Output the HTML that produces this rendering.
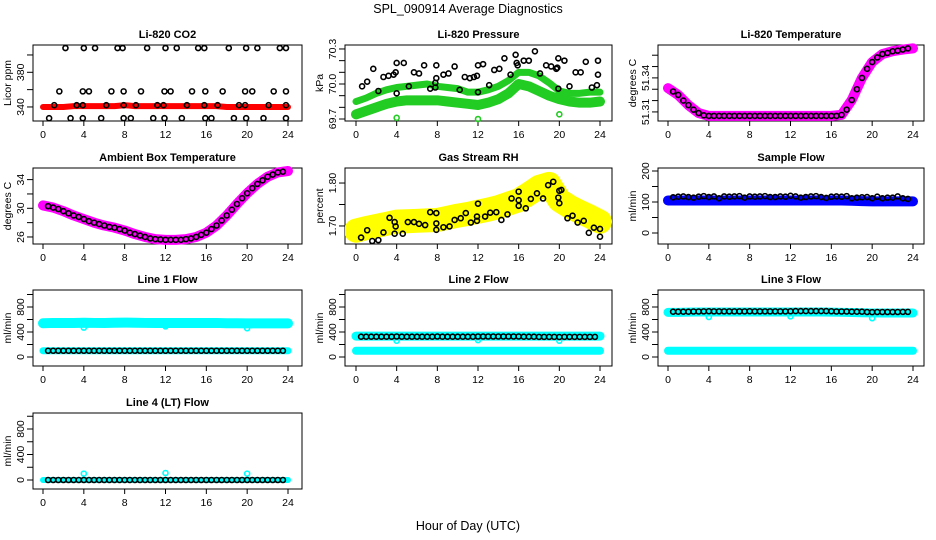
<!DOCTYPE html>
<html><head><meta charset="utf-8">
<style>
html,body{margin:0;padding:0;background:#fff;}
svg{display:block;font-family:"Liberation Sans",Arial,sans-serif;}
</style></head>
<body>
<svg id="chart" width="936" height="540" viewBox="0 0 936 540" xmlns="http://www.w3.org/2000/svg">
<text x="468" y="13" text-anchor="middle" font-size="12.5">SPL_090914  Average Diagnostics</text>
<text x="468" y="530" text-anchor="middle" font-size="12.5">Hour of Day (UTC)</text>
</svg>
<script>
const xTicks=[0,4,8,12,16,20,24];
const bandHours=[0,1,2,3,4,5,6,7,8,9,10,11,12,13,14,15,16,17,18,19,20,21,22,23,24];
const ptHours=[0.5,1,1.5,2,2.5,3,3.5,4,4.5,5,5.5,6,6.5,7,7.5,8,8.5,9,9.5,10,10.5,11,11.5,12,12.5,13,13.5,14,14.5,15,15.5,16,16.5,17,17.5,18,18.5,19,19.5,20,20.5,21,21.5,22,22.5,23,23.5];

// CO2
const co2Band=[340,340,340,341,341,341,341,341,342,341,341,341,341,341,341,341,341,341,340,340,340,340,340,340,340];
const co2PtHours=[2.2,4,5.1,7.3,7.8,10.2,12,13.1,15.2,15.8,18.2,19.9,21,23.2,23.8,1.6,3.9,4.5,6.7,7.9,9.6,11.9,12.5,14.6,15.9,17.6,19.8,20.5,22.6,23.8,1.1,3.3,3.9,6.2,7.9,9.1,11.2,11.8,14.1,15.8,17.1,19.2,19.8,22.1,23.8,0.6,2.7,3.9,5.7,7.9,8.6,10.8,11.9,13.6,15.9,16.5,18.7,19.9,21.6,23.8];
const co2PtVals=[408,408,408,408,408,408,408,408,408,408,408,408,408,408,408,358,358,358,358,358,358,358,358,358,358,358,358,358,358,358,342,342,342,342,342,342,342,342,342,342,342,342,342,342,342,327,327,327,327,327,327,327,327,327,327,327,327,327,327,327];

// Pressure
const presUpper=[69.85,69.88,69.92,69.95,69.97,69.98,69.99,70.0,69.98,69.97,69.96,69.93,69.93,69.95,69.98,70.03,70.1,70.1,70.07,70.01,69.94,69.92,69.92,69.93,69.93];
const presLower=[69.74,69.77,69.8,69.83,69.85,69.86,69.86,69.86,69.86,69.85,69.84,69.83,69.82,69.84,69.87,69.92,70.0,69.98,69.94,69.9,69.87,69.85,69.84,69.84,69.85];
const presPtHours=[0.6,1.1,1.7,2.2,2.7,3.2,3.7,3.9,4.0,4.0,4.7,5.2,5.7,6.2,6.7,7.3,7.8,7.8,7.9,7.9,8.6,9.1,9.7,10.2,10.7,11.2,11.6,11.9,12.0,12.0,12.5,13.1,13.6,14.1,14.6,15.2,15.7,15.8,15.9,16.5,17.0,17.6,18.1,18.7,19.2,19.7,19.8,19.9,19.9,20.5,21.0,21.6,22.1,22.6,23.2,23.7,23.8,23.8];
const presPtVals=[69.98,70.02,70.13,69.94,70.06,70.07,70.08,70.1,70.18,69.92,70.18,69.98,70.1,70.09,70.16,69.96,69.97,70.01,70.05,70.16,70.08,70.09,70.15,69.95,70.06,70.05,70.06,70.07,69.93,70.16,70.17,69.99,70.12,70.13,70.22,70.08,70.25,70.18,70.16,70.2,70.2,70.28,70.09,70.16,70.15,70.13,70.14,70.22,69.96,70.2,69.98,70.1,70.1,70.19,69.97,69.99,70.2,70.08];
const presOutHours=[4,12,20];
const presOutVals=[69.71,69.7,69.74];

// Li-820 temperature
const tempBand=[51.331,51.325,51.316,51.309,51.3065,51.3065,51.3065,51.3065,51.3065,51.3065,51.3065,51.3065,51.3065,51.3065,51.3065,51.3065,51.3065,51.3074,51.3205,51.340,51.354,51.361,51.3635,51.365,51.366];
const tempPts=[51.328,51.325,51.32,51.316,51.312,51.309,51.307,51.3065,51.3065,51.3065,51.3065,51.3065,51.3065,51.3065,51.3065,51.3065,51.3065,51.3065,51.3065,51.3065,51.3065,51.3065,51.3065,51.3065,51.3065,51.3065,51.3065,51.3065,51.3065,51.3065,51.3065,51.3065,51.3065,51.3074,51.312,51.3205,51.33,51.34,51.348,51.354,51.358,51.361,51.362,51.3635,51.364,51.365,51.366];

// Ambient box temperature
const ambBand=[30.4,30.1,29.6,29.0,28.5,28.0,27.6,27.3,26.9,26.4,26.0,25.7,25.6,25.6,25.7,26.0,26.6,27.6,29.0,30.6,32.1,33.4,34.4,35.0,35.2];
const ambPts=[30.3,30.1,29.9,29.6,29.3,29.0,28.8,28.5,28.2,28.0,27.8,27.6,27.4,27.3,27.1,26.9,26.6,26.4,26.2,26.0,25.8,25.7,25.65,25.6,25.6,25.6,25.6,25.7,25.8,26.0,26.3,26.6,27.1,27.6,28.3,29.0,29.8,30.6,31.4,32.1,32.8,33.4,33.9,34.4,34.7,35.0,35.1];

// Gas stream RH
const rhBand=[1.689,1.695,1.70,1.705,1.710,1.711,1.712,1.713,1.714,1.719,1.724,1.728,1.733,1.738,1.744,1.752,1.760,1.775,1.791,1.798,1.760,1.745,1.733,1.722,1.710];
const rhPtHours=[0.5,1.1,1.6,2.2,2.7,3.3,3.8,3.9,3.8,4.6,5.1,5.7,6.2,6.8,7.3,7.9,7.9,7.9,8.6,9.2,9.7,10.3,10.8,11.3,11.9,11.9,12.0,12.7,13.2,13.8,14.3,14.9,15.3,16.0,16.0,16.0,16.7,17.2,17.8,18.4,18.9,19.4,19.9,20.0,20.0,20.2,20.8,21.3,21.8,22.4,22.9,23.4,24.0,24.0];
const rhPtVals=[1.673,1.69,1.665,1.667,1.685,1.719,1.709,1.699,1.682,1.682,1.709,1.709,1.705,1.702,1.732,1.73,1.706,1.691,1.697,1.699,1.714,1.718,1.73,1.708,1.712,1.722,1.752,1.722,1.731,1.732,1.714,1.727,1.764,1.78,1.76,1.747,1.741,1.763,1.776,1.764,1.795,1.803,1.766,1.753,1.782,1.784,1.718,1.724,1.708,1.712,1.684,1.696,1.693,1.675];

// Sample flow
const sfBand=[105,105,105,105,105,105,105,105,105,105,105,105,105,105,105,105,105,105,104,103,102,102,102,102,102];
const sfPts=[115,117,118,116,114,117,119,116,118,112,118,117,118,119,114,118,117,118,119,116,116,118,117,120,118,114,116,118,119,116,113,117,118,117,119,112,114,115,116,112,117,112,114,114,118,112,110];

// Line flows
const l1Upper=[540,545,545,545,548,545,545,548,550,548,545,545,545,545,545,545,545,545,540,540,538,538,538,538,538];
const l1Lower=[100,100,100,100,100,100,100,100,100,100,100,100,100,100,100,100,100,100,100,100,100,100,100,100,100];
const l1Pts=[100,100,100,100,100,100,100,100,100,100,100,100,100,100,100,100,100,100,100,100,100,100,100,100,100,100,100,100,100,100,100,100,100,100,100,100,100,100,100,100,100,100,100,100,100,100,100];
const l2Upper=[335,335,335,335,335,335,335,335,335,335,335,335,335,335,335,335,335,335,335,335,335,335,335,335,335];
const l2Lower=[100,100,100,100,100,100,100,100,100,100,100,100,100,100,100,100,100,100,100,100,100,100,100,100,100];
const l2Pts=[325,325,325,325,325,325,325,328,325,325,325,325,325,325,325,328,325,325,325,325,325,325,325,328,328,328,328,328,328,328,328,328,325,325,325,322,322,322,322,320,322,322,322,322,322,322,322];
const l3Upper=[715,715,718,720,720,720,720,720,720,720,720,720,720,720,720,720,718,715,712,708,705,705,705,705,705];
const l3Lower=[100,100,100,100,100,100,100,100,100,100,100,100,100,100,100,100,100,100,100,100,100,100,100,100,100];
const l3Pts=[725,725,725,725,728,728,730,732,730,730,730,730,730,730,730,732,730,730,730,730,730,730,730,732,735,735,735,735,735,735,735,732,728,728,728,725,725,725,720,718,720,720,720,720,720,722,722];
const l4Band=[0,0,0,0,0,0,0,0,0,0,0,0,0,0,0,0,0,0,0,0,0,0,0,0,0];
const l4Pts=[0,0,0,0,0,0,0,0,0,0,0,0,0,0,0,0,0,0,0,0,0,0,0,0,0,0,0,0,0,0,0,0,0,0,0,0,0,0,0,0,0,0,0,0,0,0,0];
const l4OutHours=[4,12,20];
const l4OutVals=[100,110,100];
const flowOutHours=[4,12,20];
const l1OutVals=[470,490,460];
const l2OutVals=[260,270,260];
const l3OutVals=[640,650,620];

const NS="http://www.w3.org/2000/svg";
const svg=document.getElementById('chart');
const cols=[{x0:43,x24:288,l:33,r:302},{x0:356,x24:600,l:345,r:612},{x0:668,x24:913,l:658,r:924}];
const rows=[{t:45,b:121},{t:168,b:244},{t:290,b:366},{t:413,b:489}];

function mk(tag,attrs,parent){const e=document.createElementNS(NS,tag);for(const k in attrs)e.setAttribute(k,attrs[k]);(parent||svg).appendChild(e);return e;}

function panel(ci,ri,title,ylab,yMin,yMax,yTicks,yLabels,fmt,name){
  const c=cols[ci],r=rows[ri];
  const g=mk('g',{});
  
  
  const sx=h=>c.x0+h*(c.x24-c.x0)/24;
  const sy=v=>r.t+(yMax-v)/(yMax-yMin)*(r.b-r.t);
  const box=mk('rect',{x:c.l,y:r.t,width:c.r-c.l,height:r.b-r.t,fill:'none',stroke:'#000','stroke-width':1},g);
  
  
  const tt=mk('text',{x:(c.l+c.r)/2,y:r.t-7,'text-anchor':'middle','font-size':11,'font-weight':'bold'},g);
  tt.textContent=title;
  
  
  const yl=mk('text',{x:0,y:0,'text-anchor':'middle','font-size':10.5,transform:`translate(${c.l-22},${(r.t+r.b)/2}) rotate(-90)`},g);
  yl.textContent=ylab;
  
  
  mk('line',{x1:sx(0),x2:sx(24),y1:r.b,y2:r.b,stroke:'#000'},g);
  xTicks.forEach(h=>{
    mk('line',{x1:sx(h),x2:sx(h),y1:r.b,y2:r.b+5,stroke:'#000'},g);
    const t=mk('text',{x:sx(h),y:r.b+17,'text-anchor':'middle','font-size':10.5},g);
    t.textContent=h;
    
    
  });
  yTicks.forEach(v=>{
    mk('line',{x1:c.l-6,x2:c.l,y1:sy(v),y2:sy(v),stroke:'#000'},g);
  });
  yLabels.forEach(v=>{
    const t=mk('text',{x:0,y:0,'text-anchor':'middle','font-size':10.5,transform:`translate(${c.l-9},${sy(v)}) rotate(-90)`},g);
    t.textContent=fmt(v);
    
    
  });
  const clipId='clip'+ci+ri;
  const cp=mk('clipPath',{id:clipId},g);
  mk('rect',{x:c.l,y:r.t-4,width:c.r-c.l+4,height:r.b-r.t+8},cp);
  const dg=mk('g',{'clip-path':`url(#${clipId})`},g);
  return {
    band(vals,color,w,nm){
      const p=mk('polyline',{points:bandHours.map((h,i)=>sx(h)+','+sy(vals[i])).join(' '),fill:'none',stroke:color,'stroke-width':w,'stroke-linejoin':'round','stroke-linecap':'round'},dg);
      
      
    },
    pts(hours,vals,color,nm){
      hours.forEach((h,i)=>{
        const e=mk('circle',{cx:sx(h),cy:sy(vals[i]),r:2.5,fill:'none',stroke:color,'stroke-width':1.6},dg);
        
        
      });
    }
  };
}
const f0=v=>String(v), f1=v=>v.toFixed(1), f2=v=>v.toFixed(2);

let p=panel(0,0,'Li-820 CO2','Licor ppm',323.8,411.5,[340,360,380,400],[340,380],f0,'co2');
p.band(co2Band,'#ff0000',6,'co2-band');
p.pts(co2PtHours,co2PtVals,'#000','co2-point');

p=panel(1,0,'Li-820 Pressure','kPa',69.683,70.334,[69.7,69.8,69.9,70.0,70.1,70.2,70.3],[69.7,70.0,70.3],f1,'pressure');
p.band(presUpper,'#22cc22',7,'pressure-band-upper');
p.band(presLower,'#22cc22',10,'pressure-band-lower');
p.pts(presOutHours,presOutVals,'#22cc22','pressure-outlier');
p.pts(presPtHours,presPtVals,'#000','pressure-point');

p=panel(2,0,'Li-820 Temperature','degrees C',51.302,51.369,[51.31,51.32,51.33,51.34,51.35,51.36],[51.31,51.34],f2,'li820-temp');
p.band(tempBand,'#ff00ff',10,'li820-temp-band');
p.pts(ptHours,tempPts,'#000','li820-temp-point');

p=panel(0,1,'Ambient Box Temperature','degrees C',25.02,35.62,[26,28,30,32,34],[26,30,34],f0,'ambient');
p.band(ambBand,'#ff00ff',10,'ambient-band');
p.pts(ptHours,ambPts,'#000','ambient-point');

p=panel(1,1,'Gas Stream RH','percent',1.658,1.835,[1.70,1.75,1.80],[1.70,1.80],f2,'rh');
p.band(rhBand,'#ffff00',24,'rh-band');
p.pts(rhPtHours,rhPtVals,'#000','rh-point');

p=panel(2,1,'Sample Flow','ml/min',-35.5,209.7,[0,50,100,150,200],[0,100,200],f0,'sample-flow');
p.band(sfBand,'#0000ff',10,'sample-flow-band');
p.pts(ptHours,sfPts,'#000','sample-flow-point');

p=panel(0,2,'Line 1 Flow','ml/min',-144,1072,[0,200,400,600,800,1000],[0,400,800],f0,'line1');
p.band(l1Upper,'#00ffff',10,'line1-band-upper');
p.band(l1Lower,'#00ffff',7,'line1-band-lower');
p.pts(flowOutHours,l1OutVals,'#00ffff','line1-outlier');
p.pts(ptHours,l1Pts,'#000','line1-point');

p=panel(1,2,'Line 2 Flow','ml/min',-144,1072,[0,200,400,600,800,1000],[0,400,800],f0,'line2');
p.band(l2Upper,'#00ffff',9,'line2-band-upper');
p.band(l2Lower,'#00ffff',8,'line2-band-lower');
p.pts(flowOutHours,l2OutVals,'#00ffff','line2-outlier');
p.pts(ptHours,l2Pts,'#000','line2-point');

p=panel(2,2,'Line 3 Flow','ml/min',-144,1072,[0,200,400,600,800,1000],[0,400,800],f0,'line3');
p.band(l3Upper,'#00ffff',9,'line3-band-upper');
p.band(l3Lower,'#00ffff',8,'line3-band-lower');
p.pts(flowOutHours,l3OutVals,'#00ffff','line3-outlier');
p.pts(ptHours,l3Pts,'#000','line3-point');

p=panel(0,3,'Line 4 (LT) Flow','ml/min',-141,1051,[0,200,400,600,800,1000],[0,400,800],f0,'line4');
p.band(l4Band,'#00ffff',6,'line4-band');
p.pts(l4OutHours,l4OutVals,'#00ffff','line4-outlier');
p.pts(ptHours,l4Pts,'#000','line4-point');
</script>
</body></html>
